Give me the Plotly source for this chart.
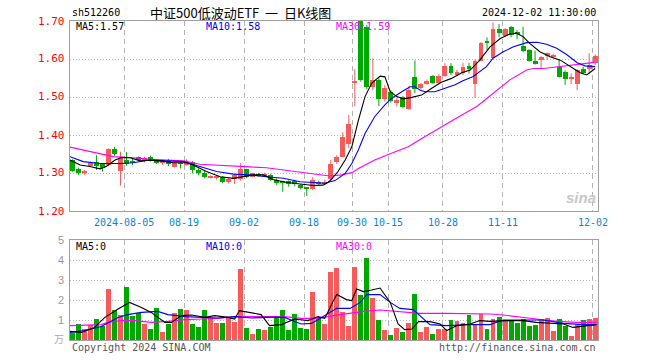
import plotly.graph_objects as go
import pandas as pd

W, H = 660, 360

# ---------------- data ----------------
holidays = ["2024-09-16", "2024-09-17", "2024-10-01", "2024-10-02", "2024-10-03",
            "2024-10-04", "2024-10-07"]
dates = [d.strftime("%Y-%m-%d") for d in pd.bdate_range("2024-07-23", "2024-12-02")
         if d.strftime("%Y-%m-%d") not in holidays]

opens = [1.334, 1.310, 1.300, 1.319, 1.329, 1.323, 1.321, 1.364, 1.306, 1.335,
         1.332, 1.341, 1.336, 1.343, 1.334, 1.328, 1.332, 1.317, 1.326, 1.323,
         1.329, 1.309, 1.301, 1.289, 1.289, 1.289, 1.276, 1.283, 1.283, 1.310,
         1.290, 1.296, 1.294, 1.295, 1.282, 1.278, 1.278, 1.278, 1.268, 1.261,
         1.258, 1.277, 1.272, 1.283, 1.330, 1.341, 1.376, 1.537, 1.720, 1.683,
         1.527, 1.546, 1.495, 1.514, 1.483, 1.499, 1.468, 1.553, 1.523, 1.534,
         1.555, 1.536, 1.555, 1.582, 1.560, 1.562, 1.582, 1.534, 1.596, 1.646,
         1.602, 1.679, 1.661, 1.685, 1.669, 1.635, 1.624, 1.595, 1.599, 1.608,
         1.606, 1.580, 1.567, 1.549, 1.534, 1.574, 1.575, 1.589]
highs = [1.336, 1.314, 1.308, 1.330, 1.347, 1.326, 1.365, 1.369, 1.356, 1.355,
         1.339, 1.343, 1.343, 1.346, 1.336, 1.336, 1.337, 1.330, 1.334, 1.336,
         1.331, 1.312, 1.305, 1.294, 1.294, 1.292, 1.287, 1.299, 1.326, 1.311,
         1.301, 1.300, 1.301, 1.298, 1.286, 1.280, 1.281, 1.282, 1.271, 1.262,
         1.289, 1.280, 1.282, 1.334, 1.347, 1.407, 1.453, 1.573, 1.740, 1.690,
         1.602, 1.553, 1.532, 1.518, 1.499, 1.502, 1.529, 1.596, 1.537, 1.546,
         1.558, 1.560, 1.589, 1.589, 1.572, 1.590, 1.590, 1.598, 1.645, 1.657,
         1.696, 1.692, 1.681, 1.687, 1.676, 1.685, 1.626, 1.622, 1.607, 1.617,
         1.614, 1.597, 1.570, 1.562, 1.573, 1.580, 1.615, 1.612]
lows = [1.303, 1.295, 1.295, 1.317, 1.308, 1.304, 1.318, 1.345, 1.267, 1.319,
        1.321, 1.330, 1.328, 1.330, 1.324, 1.322, 1.318, 1.315, 1.312, 1.320,
        1.299, 1.294, 1.286, 1.286, 1.282, 1.273, 1.272, 1.271, 1.280, 1.286,
        1.289, 1.290, 1.290, 1.279, 1.268, 1.251, 1.264, 1.265, 1.256, 1.239,
        1.255, 1.266, 1.268, 1.280, 1.324, 1.341, 1.365, 1.475, 1.540, 1.520,
        1.518, 1.476, 1.488, 1.485, 1.475, 1.470, 1.466, 1.510, 1.520, 1.532,
        1.534, 1.534, 1.553, 1.558, 1.557, 1.558, 1.562, 1.499, 1.596, 1.624,
        1.602, 1.657, 1.659, 1.657, 1.652, 1.618, 1.593, 1.585, 1.573, 1.598,
        1.603, 1.551, 1.532, 1.534, 1.518, 1.560, 1.562, 1.584]
closes = [1.306, 1.301, 1.303, 1.327, 1.319, 1.314, 1.363, 1.351, 1.340, 1.325,
          1.327, 1.335, 1.340, 1.336, 1.327, 1.332, 1.325, 1.327, 1.324, 1.328,
          1.309, 1.299, 1.290, 1.293, 1.291, 1.277, 1.283, 1.295, 1.310, 1.290,
          1.299, 1.294, 1.296, 1.282, 1.275, 1.276, 1.272, 1.271, 1.260, 1.259,
          1.282, 1.270, 1.276, 1.324, 1.341, 1.396, 1.429, 1.542, 1.545, 1.527,
          1.545, 1.496, 1.523, 1.489, 1.492, 1.473, 1.518, 1.521, 1.534, 1.543,
          1.536, 1.554, 1.582, 1.562, 1.565, 1.580, 1.573, 1.596, 1.643, 1.643,
          1.679, 1.669, 1.679, 1.663, 1.667, 1.621, 1.596, 1.587, 1.604, 1.615,
          1.610, 1.553, 1.547, 1.553, 1.571, 1.562, 1.584, 1.608]
volumes = [0.33, 0.80, 0.55, 0.75, 1.05, 0.72, 2.55, 1.50, 1.25, 2.65,
           1.20, 1.35, 0.80, 0.55, 1.60, 0.40, 0.80, 1.35, 1.55, 1.50,
           0.80, 0.65, 1.50, 1.10, 0.85, 0.85, 1.15, 0.90, 3.55, 0.60,
           0.30, 0.55, 0.50, 0.65, 1.20, 1.50, 0.50, 1.30, 0.60, 0.55,
           2.40, 1.13, 0.80, 3.40, 3.58, 1.38, 0.68, 3.63, 2.23, 4.08,
           2.08, 0.98, 0.48, 0.23, 0.58, 0.38, 0.83, 2.28, 0.38, 0.63,
           0.28, 0.53, 0.53, 0.98, 0.93, 0.83, 1.23, 0.73, 1.28, 0.53,
           1.03, 1.13, 0.93, 0.93, 0.83, 1.03, 0.68, 0.73, 1.03, 1.08,
           0.43, 1.03, 0.68, 0.18, 0.73, 0.98, 1.03, 1.08]

# moving-average lines (position in trading days, value)
ma5_pos = [-0.4, 1.3, 2.9, 4.6, 5.7, 7.1, 8.2, 9.6, 11.3, 12.9, 14.6, 16.8, 19.0, 20.1,
           22.3, 24.6, 26.8, 28.5, 30.1, 31.8, 33.4, 35.7, 37.9, 40.1, 41.7, 42.5,
           43.1, 44.2, 45.4, 46.5, 47.6, 48.7, 49.8, 51.2, 52.0, 52.9, 54.0, 55.1,
           56.5, 58.1, 59.8, 61.4, 63.1, 64.8, 66.2, 67.8, 69.5, 71.2, 72.8, 73.9,
           75.0, 76.1, 77.8, 79.5, 81.2, 82.8, 84.5, 85.6, 87.0]
ma5_val = [1.334, 1.321, 1.317, 1.311, 1.318, 1.334, 1.341, 1.340, 1.332, 1.334, 1.332,
           1.327, 1.327, 1.321, 1.304, 1.290, 1.286, 1.290, 1.295, 1.295, 1.283, 1.275,
           1.271, 1.267, 1.268, 1.275, 1.283, 1.304, 1.334, 1.369, 1.439, 1.501, 1.536,
           1.555, 1.553, 1.514, 1.501, 1.495, 1.499, 1.505, 1.523, 1.539, 1.549, 1.564,
           1.571, 1.597, 1.632, 1.654, 1.666, 1.668, 1.659, 1.641, 1.619, 1.606, 1.597,
           1.582, 1.564, 1.558, 1.575]
ma10_pos = [-0.4, 1.8, 4.6, 7.9, 10.1, 12.9, 15.7, 18.5, 21.2, 24.0, 26.8, 29.5, 32.3,
            35.1, 37.9, 40.6, 42.0, 43.7, 45.4, 46.5, 47.6, 48.7, 50.3, 52.0, 53.1,
            54.8, 56.2, 57.0, 57.9, 58.7, 60.3, 62.0, 63.7, 64.9, 66.7, 68.9, 70.0,
            71.7, 73.4, 75.6, 77.3, 78.9, 80.6, 82.3, 84.0, 85.3, 87.0]
ma10_val = [1.343, 1.330, 1.325, 1.325, 1.327, 1.334, 1.332, 1.330, 1.317, 1.304, 1.297,
            1.295, 1.290, 1.286, 1.277, 1.275, 1.273, 1.280, 1.299, 1.325, 1.361, 1.404,
            1.448, 1.479, 1.496, 1.514, 1.527, 1.527, 1.518, 1.514, 1.514, 1.523, 1.532,
            1.542, 1.554, 1.580, 1.602, 1.619, 1.632, 1.643, 1.644, 1.639, 1.628, 1.611,
            1.590, 1.582, 1.580]
ma30_pos = [-0.4, 2.4, 4.6, 6.8, 10.1, 12.9, 15.7, 18.5, 21.2, 24.0, 26.8, 29.5, 32.3,
            35.1, 37.9, 40.6, 42.8, 44.8, 46.5, 47.6, 50.3, 53.1, 55.9, 58.7, 61.4,
            64.3, 67.3, 70.0, 72.8, 75.6, 76.7, 78.4, 81.1, 83.9, 86.9]
ma30_val = [1.368, 1.358, 1.349, 1.343, 1.340, 1.336, 1.334, 1.332, 1.323, 1.320, 1.317,
            1.316, 1.314, 1.308, 1.301, 1.295, 1.292, 1.295, 1.301, 1.312, 1.334, 1.352,
            1.369, 1.396, 1.422, 1.448, 1.475, 1.510, 1.545, 1.571, 1.575, 1.575, 1.580,
            1.587, 1.591]

vma5_pos = [-0.4, 1.5, 3.7, 5.4, 7.6, 9.5, 11.5, 13.1, 15.4, 16.5, 18.1, 19.8, 22.0, 23.7,
            25.9, 27.0, 27.8, 29.2, 31.4, 32.8, 34.8, 37.0, 39.2, 40.9, 42.0, 43.5,
            44.0, 45.6, 46.5, 47.3, 48.4, 49.8, 51.2, 52.9, 54.2, 55.3, 56.5, 57.6,
            59.5, 61.2, 62.3, 64.0, 66.2, 67.8, 69.5, 72.3, 75.0, 77.2, 79.5, 81.7,
            83.3, 85.6, 87.2]
vma5_val = [0.43, 0.38, 0.63, 1.13, 1.55, 1.88, 1.63, 1.38, 0.88, 0.88, 1.22, 1.25, 1.13,
            1.22, 1.13, 1.05, 1.47, 1.38, 1.27, 0.72, 0.77, 1.05, 0.97, 1.17, 1.08, 2.00,
            2.27, 2.02, 1.97, 2.55, 2.42, 2.50, 2.60, 1.88, 0.80, 0.52, 0.55, 0.92, 0.92,
            0.80, 0.47, 0.72, 0.80, 0.97, 0.93, 0.97, 0.97, 0.88, 0.83, 0.80, 0.63, 0.72,
            0.77]
vma10_pos = [-0.4, 2.0, 4.8, 7.6, 9.2, 11.5, 14.2, 15.9, 18.7, 21.5, 24.2, 27.0, 29.8,
             32.5, 35.3, 37.0, 38.1, 39.8, 41.4, 43.0, 44.0, 46.2, 47.9, 49.0, 51.2,
             52.9, 54.5, 56.7, 58.4, 59.5, 62.3, 66.2, 69.5, 71.7, 75.0, 78.3, 81.7,
             85.0, 87.2]
vma10_val = [0.38, 0.47, 0.67, 1.13, 1.27, 1.38, 1.43, 1.27, 1.17, 1.13, 1.10, 1.17, 1.10,
             1.13, 1.13, 0.93, 0.80, 0.83, 1.13, 1.40, 1.58, 1.58, 1.88, 2.27, 2.27, 1.88,
             1.58, 1.52, 1.05, 0.77, 0.72, 0.77, 0.77, 1.00, 1.00, 1.00, 0.83, 0.77, 0.77]
vma30_pos = [-0.4, 4.8, 5.9, 8.1, 10.4, 13.1, 15.9, 18.7, 21.5, 24.2, 27.0, 29.8, 32.5,
             35.3, 38.1, 40.9, 43.5, 48.4, 51.2, 54.0, 57.8, 62.3, 69.5, 71.7, 74.5,
             77.2, 80.6, 83.9, 87.2]
vma30_val = [0.72, 0.77, 0.88, 0.97, 0.97, 0.88, 0.93, 1.02, 1.05, 1.08, 1.17, 1.17, 1.17,
             1.17, 1.08, 1.08, 1.22, 1.43, 1.50, 1.43, 1.33, 1.33, 1.30, 1.25, 1.13, 1.05,
             0.93, 0.88, 0.88]

tick_dates = ["2024-08-05", "2024-08-19", "2024-09-02", "2024-09-18", "2024-09-30",
              "2024-10-15", "2024-10-28", "2024-11-11", "2024-12-02"]
tick_labels = ["2024-08-05", "08-19", "09-02", "09-18", "09-30", "10-15", "10-28",
               "11-11", "12-02"]
price_ticks = [1.20, 1.30, 1.40, 1.50, 1.60, 1.70]
vol_ticks = [0, 1, 2, 3, 4, 5]

# ---------------- layout helpers ----------------
RED = "#f65a5a"
GREEN = "#00a800"
MONO = "DejaVu Sans Mono"
FRAME = "#a0a0a0"

def fx(px):
    return px / W

def fy(py):
    return 1 - py / H

X0, X1 = 70, 598
MT, MB = 21, 211
VT, VB = 240, 340
n = len(closes)
idx = list(range(n))
xr = [-0.4, 87.47]
grid_pos = [dates.index(d) - 0.4 for d in tick_dates]

fig = go.Figure()

up = [c >= o for o, c in zip(opens, closes)]

# candle bodies and wicks
for flag, col in ((True, RED), (False, GREEN)):
    xs = [i for i in idx if up[i] == flag]
    base = [min(opens[i], closes[i]) for i in xs]
    hgt = [max(abs(closes[i] - opens[i]), 0.0015) for i in xs]
    fig.add_trace(go.Bar(x=xs, y=hgt, base=base, width=0.82, marker_color=col,
                         marker_line_width=0, xaxis="x", yaxis="y", showlegend=False,
                         hoverinfo="skip"))
    wx, wy = [], []
    for i in xs:
        wx += [i, i, None]
        wy += [lows[i], highs[i], None]
    fig.add_trace(go.Scatter(x=wx, y=wy, mode="lines", line=dict(color=col, width=1),
                             xaxis="x", yaxis="y", showlegend=False, hoverinfo="skip"))

for pos, val, col in ((ma30_pos, ma30_val, "#ff00ff"), (ma10_pos, ma10_val, "#0000ff"),
                      (ma5_pos, ma5_val, "#000000")):
    fig.add_trace(go.Scatter(x=pos, y=val, mode="lines", line=dict(color=col, width=1.1),
                             xaxis="x", yaxis="y", showlegend=False, hoverinfo="skip"))

# volume bars
for flag, col in ((True, RED), (False, GREEN)):
    xs = [i for i in idx if up[i] == flag]
    fig.add_trace(go.Bar(x=xs, y=[volumes[i] for i in xs], width=0.82, marker_color=col,
                         marker_line_width=0, xaxis="x2", yaxis="y2", showlegend=False,
                         hoverinfo="skip"))
for pos, val, col in ((vma30_pos, vma30_val, "#ff00ff"), (vma10_pos, vma10_val, "#0000ff"),
                      (vma5_pos, vma5_val, "#000000")):
    fig.add_trace(go.Scatter(x=pos, y=val, mode="lines", line=dict(color=col, width=1.1),
                             xaxis="x2", yaxis="y2", showlegend=False, hoverinfo="skip"))

axis_common = dict(showline=True, mirror=True, linecolor=FRAME, linewidth=1,
                   zeroline=False, showticklabels=False, ticks="", fixedrange=True)

fig.update_layout(
    width=W, height=H, margin=dict(l=0, r=0, t=0, b=0),
    paper_bgcolor="white", plot_bgcolor="white", barmode="overlay", bargap=0,
    xaxis=dict(domain=[fx(X0), fx(X1)], range=xr, tickvals=grid_pos, showgrid=True,
               gridcolor="#b4b4b4", griddash="5px,4px", gridwidth=1, anchor="y",
               **axis_common),
    yaxis=dict(domain=[fy(MB), fy(MT)], range=[1.20, 1.70], tickvals=price_ticks[1:-1],
               showgrid=True, gridcolor="#b4b4b4", griddash="1px,2px", gridwidth=1,
               anchor="x", **axis_common),
    xaxis2=dict(domain=[fx(X0), fx(X1)], range=xr, tickvals=grid_pos, showgrid=True,
                gridcolor="#b4b4b4", griddash="5px,4px", gridwidth=1, anchor="y2",
                **axis_common),
    yaxis2=dict(domain=[fy(VB), fy(VT)], range=[0, 5], tickvals=vol_ticks[1:-1],
                showgrid=True, gridcolor="#b4b4b4", griddash="1px,2px", gridwidth=1,
                anchor="x2", **axis_common),
    showlegend=False,
)

ann = []

def text(x, y, s, color="#000", size=10, xanchor="left", family=MONO, xref="paper"):
    ann.append(dict(x=x, y=y, xref=xref, yref="paper", text=s, showarrow=False,
                    xanchor=xanchor, yanchor="middle", font=dict(family=family, size=size,
                                                                 color=color)))

# header
text(fx(70), fy(13), "sh512260", size=10)
text(fx(240), fy(13), "中证500低波动ETF\u00a0\u00a0一\u00a0\u00a0日K线图", size=13,
     xanchor="center", family="Noto Sans CJK SC")
text(fx(598), fy(13), "2024-12-02 11:30:00", size=10, xanchor="right")

# price MA labels
text(fx(74), fy(27), "MA5:1.57", size=10)
text(fx(204), fy(27), "MA10:1.58", color="#0000ff", size=10)
text(fx(334), fy(27), "MA30:1.59", color="#ff00ff", size=10)

# volume MA labels
text(fx(74), fy(246), "MA5:0", size=10)
text(fx(204), fy(246), "MA10:0", color="#0000ff", size=10)
text(fx(334), fy(246), "MA30:0", color="#ff00ff", size=10)

# price axis labels
for p in price_ticks:
    text(fx(67), fy(MB - (p - 1.20) / 0.5 * (MB - MT)), f"{p:.2f}", color="#ff0000",
         size=11, xanchor="right")

# volume axis labels
for v in vol_ticks[1:]:
    text(fx(66), fy(VB - v / 5 * (VB - VT)), str(v), color="#999999", size=11,
         xanchor="right", family="Liberation Sans")
text(fx(66), fy(338), "万", color="#aaaaaa", size=10, xanchor="right",
     family="Noto Sans CJK SC")

# date labels
for g, lab in zip(grid_pos, tick_labels):
    ann.append(dict(x=g, y=fy(222), xref="x", yref="paper", text=lab, showarrow=False,
                    xanchor="center", yanchor="middle",
                    font=dict(family=MONO, size=10, color="#0a85d6")))

# footer
text(fx(70), fy(347), "Copyright 2024 SINA.COM", color="#555555", size=10)
text(fx(598), fy(347), "http://finance.sina.com.cn", color="#555555", size=10,
     xanchor="right")

# watermark
text(fx(581), fy(197), "<b><i>sina</i></b>", color="#c8c8c8", size=15, xanchor="center",
     family="Liberation Sans")

fig.update_layout(annotations=ann)
fig.write_html("out.html", config={"displayModeBar": False},
               post_script="document.body.style.margin='0px';"
                           "document.body.style.padding='0px';")
